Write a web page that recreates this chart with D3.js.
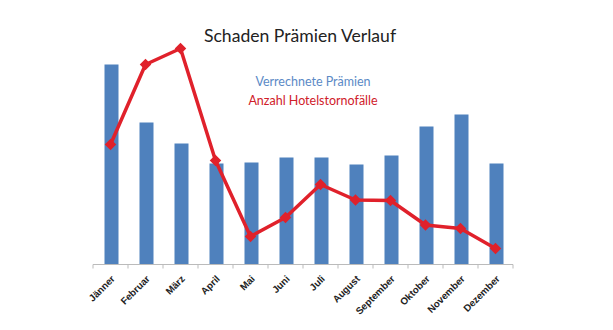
<!DOCTYPE html>
<html><head><meta charset="utf-8">
<script src="https://cdn.jsdelivr.net/npm/d3@7"></script>
<style>body{margin:0;background:#fff}svg{display:block}</style>
</head><body>
<svg id="c" width="613" height="330"></svg>
<script>
const months = ["Jänner","Februar","März","April","Mai","Juni","Juli","August","September","Oktober","November","Dezember"];
const praemien = [200, 142, 121, 101, 102, 107, 107, 100, 109, 138, 150, 101];
const stornos = [120, 200, 216, 104, 28, 47, 80, 64.5, 64, 39.5, 36, 16];
const title = "Schaden Prämien Verlauf";
const legendLabels = ["Verrechnete Prämien", "Anzahl Hotelstornofälle"];

const svg = d3.select("#c");
const x = d3.scaleBand().domain(months).range([93, 513]).paddingInner(0.6).paddingOuter(0.3);
const xp = d3.scalePoint().domain(months).range([93, 513]).padding(0.5);
const y = d3.scaleLinear().domain([0, 250]).range([264.5, 14.5]);

svg.append("text").attr("x", 300).attr("y", 42).attr("text-anchor", "middle")
  .attr("font-family", "Lato, 'Noto Sans', sans-serif").attr("font-size", 17.6).attr("fill", "#222")
  .text(title);

svg.append("g").selectAll("rect").data(praemien).join("rect")
  .attr("x", (d, i) => x(months[i]) + 1).attr("width", x.bandwidth())
  .attr("y", d => y(d)).attr("height", d => y(0) - y(d)).attr("fill", "#4f81bd");

const xa = svg.append("g").attr("transform", `translate(0,${y(0)})`)
  .call(d3.axisBottom(d3.scaleBand().domain(months).range([93, 513])).tickSize(4).tickFormat(""));
xa.select(".domain").attr("stroke", "#bbb").attr("d", "M93,0H513");
xa.selectAll(".tick").remove();
const edges = d3.range(13).map(i => 93 + i * 35);
svg.append("g").selectAll("line").data(edges).join("line")
  .attr("x1", d => d).attr("x2", d => d).attr("y1", y(0)).attr("y2", y(0) + 4).attr("stroke", "#bbb");

svg.append("g").selectAll("text").data(months).join("text")
  .attr("transform", d => `translate(${xp(d) + 5},${y(0) + 15}) rotate(-45)`)
  .attr("text-anchor", "end").attr("font-family", "'Liberation Sans', Arial, sans-serif")
  .attr("font-size", 9.8).attr("font-weight", "bold").attr("fill", "#222").text(d => d);

const line = d3.line().x((d, i) => xp(months[i])).y(d => y(d));
svg.append("path").datum(stornos).attr("d", line).attr("fill", "none")
  .attr("stroke", "#e0212b").attr("stroke-width", 3.5).attr("stroke-linejoin", "round");
svg.append("g").selectAll("path").data(stornos).join("path")
  .attr("d", d3.symbol(d3.symbolDiamond2, 85))
  .attr("transform", (d, i) => `translate(${xp(months[i])},${y(d)})`).attr("fill", "#e0212b");

svg.append("text").attr("x", 313).attr("y", 86).attr("text-anchor", "middle")
  .attr("font-family", "Lato, 'Noto Sans', sans-serif").attr("font-size", 12.5).attr("fill", "#5b8ac6")
  .text(legendLabels[0]);
svg.append("text").attr("x", 313).attr("y", 105).attr("text-anchor", "middle")
  .attr("font-family", "Lato, 'Noto Sans', sans-serif").attr("font-size", 12.5).attr("fill", "#d0202a")
  .text(legendLabels[1]);
</script>
</body></html>
